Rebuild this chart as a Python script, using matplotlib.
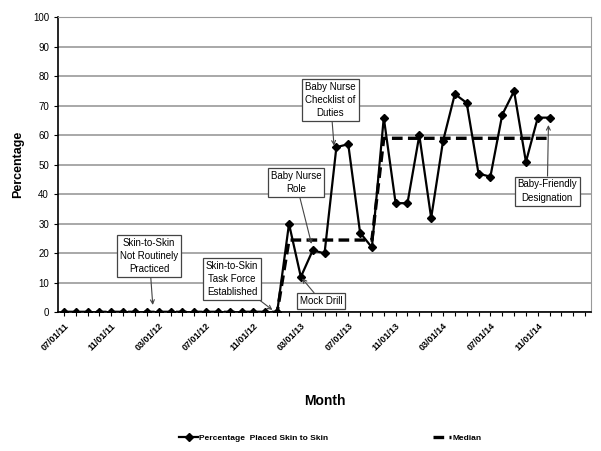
import matplotlib
matplotlib.use("Agg")
import matplotlib.pyplot as plt
import numpy as np

plt.rcParams["font.family"] = ["Liberation Sans Narrow", "Liberation Sans", "DejaVu Sans"]

# monthly values, 07/01/11 .. 12/01/14
months = [f"{(6 + i) % 12 + 1:02d}/01/{11 + (6 + i) // 12:02d}" for i in range(45)]
pct_skin = [0] * 19 + [30, 12, 21, 20, 56, 57, 27, 22,
                       66, 37, 37, 60, 32, 58, 74, 71, 47, 46, 67, 75, 51, 66, 66]
median = [0] * 19 + [24.5] * 8 + [59] * 15

# (text, arrow tip, box centre)
annotations = [
    ("Skin-to-Skin\nNot Routinely\nPracticed", (7.5, 2.5), (7.2, 19.1)),
    ("Skin-to-Skin\nTask Force\nEstablished", (17.6, 0.8), (14.2, 11.3)),
    ("Mock Drill", (20.1, 11.5), (21.7, 3.8)),
    ("Baby Nurse\nRole", (20.9, 23.2), (19.6, 44)),
    ("Baby Nurse\nChecklist of\nDuties", (22.8, 56.5), (22.5, 72)),
    ("Baby-Friendly\nDesignation", (40.9, 63.5), (40.8, 41.1)),
]

fig = plt.figure(figsize=(6.01, 4.51), dpi=100)
ax = fig.add_axes([0.0965, 0.3075, 0.887, 0.654])

x = np.arange(len(pct_skin))
ax.plot(np.arange(len(median)), median, color="black", lw=2.4, ls=(0, (3.2, 1.6)),
        label="Median", zorder=2)
ax.plot(x, pct_skin, color="black", lw=1.6, marker="D", ms=4.3,
        label="Percentage  Placed Skin to Skin", zorder=3)

for text, xy, xytext in annotations:
    ax.annotate(text, xy=xy, xytext=xytext, ha="center", va="center",
                fontsize=7, linespacing=1.4,
                bbox=dict(boxstyle="square,pad=0.3", fc="white", ec="#444444", lw=0.9),
                arrowprops=dict(arrowstyle="->", color="#444444", lw=0.8,
                                shrinkA=0, shrinkB=0),
                zorder=5)

ax.set_xlim(-0.5, len(months) - 0.5)
ax.set_ylim(0, 100)
ax.set_yticks(range(0, 101, 10))
ax.yaxis.grid(True, color="#999999", lw=1.2)
ax.set_axisbelow(True)
ax.set_xticks(np.arange(len(months)), minor=True)
ax.set_xticks(np.arange(0, 41, 4))
ax.set_xticklabels([months[i] for i in range(0, 41, 4)], rotation=45,
                   ha="right", rotation_mode="anchor", fontsize=6.5, fontweight="bold")
ax.tick_params(axis="x", which="both", length=3, width=0.8)
ax.tick_params(axis="y", length=3, labelsize=7)
for s in ["top", "right"]:
    ax.spines[s].set_color("#999999")
ax.spines["left"].set_linewidth(1.2)
ax.spines["bottom"].set_linewidth(1.2)

ax.set_xlabel("Month", fontsize=10, fontweight="bold", labelpad=30)
ax.set_ylabel("Percentage", fontsize=9, fontweight="bold", labelpad=6)

handles, labels = ax.get_legend_handles_labels()
fig.legend(handles[::-1], labels[::-1], loc="center", bbox_to_anchor=(0.55, 0.028),
           ncol=2, frameon=False, columnspacing=12.5, handlelength=2.2,
           handletextpad=0.2, prop={"weight": "bold", "size": 6})

fig.savefig("out.png", dpi=100)
